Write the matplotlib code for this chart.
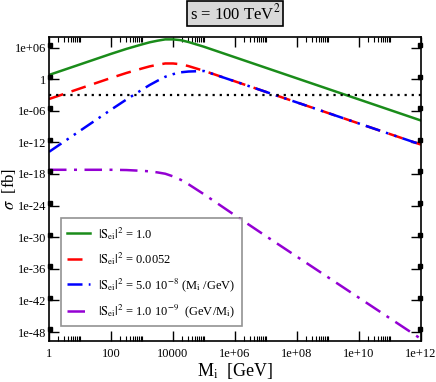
import matplotlib
matplotlib.use("Agg")
import matplotlib.pyplot as plt
import numpy as np
from matplotlib.ticker import FixedLocator, FixedFormatter, NullFormatter

# ---- data (log10 values) ----
log_mass = [0, 1, 2, 2.5, 3, 3.25, 3.5, 3.75, 4, 4.25, 4.5, 4.75, 5, 6, 7, 8, 9, 10, 11, 12]
log_sigma_s1 = [0.8, 2.8, 4.8, 5.75, 6.6, 7.0, 7.3, 7.55, 7.55, 7.4, 7.05, 6.6, 6.15,
                4.15, 2.15, 0.15, -1.85, -3.85, -5.85, -7.85]
log_sigma_s0052 = [-3.77, -1.77, 0.23, 1.18, 2.03, 2.43, 2.73, 2.98, 2.98, 2.83, 2.48, 2.03, 1.58,
                   -0.42, -2.42, -4.42, -6.42, -8.42, -10.42, -12.42]
log_sigma_lin = [-13.8, -9.8, -5.8, -3.85, -2.0, -1.1, -0.3, 0.45, 0.95, 1.3, 1.45, 1.5, 1.55,
                 -0.42, -2.42, -4.42, -6.42, -8.42, -10.42, -12.42]
log_sigma_inv = [-17.2, -17.2, -17.2, -17.25, -17.4, -17.5, -17.7, -17.95, -18.45, -19.1, -19.95,
                 -20.9, -21.85, -25.85, -29.8, -33.7, -37.6, -41.5, -45.4, -49.3]
reference_level = 1e-3

labels = [r"$|\mathrm{S}_{\mathrm{ei}}|^2$ = 1.0",
          r"$|\mathrm{S}_{\mathrm{ei}}|^2$ = 0.0052",
          r"$|\mathrm{S}_{\mathrm{ei}}|^2$ = 5.0 10$^{-8}$ (M$_{\mathrm{i}}$ /GeV)",
          r"$|\mathrm{S}_{\mathrm{ei}}|^2$ = 1.0 10$^{-9}$  (GeV/M$_{\mathrm{i}}$)"]

x_ticks = [1, 1e2, 1e4, 1e6, 1e8, 1e10, 1e12]
x_ticklabels = ["1", "100", "10000", "1e+06", "1e+08", "1e+10", "1e+12"]
y_ticks = [1e6, 1, 1e-6, 1e-12, 1e-18, 1e-24, 1e-30, 1e-36, 1e-42, 1e-48]
y_ticklabels = ["1e+06", "1", "1e-06", "1e-12", "1e-18", "1e-24", "1e-30", "1e-36", "1e-42", "1e-48"]

plt.rcParams['font.family'] = ['Liberation Serif', 'DejaVu Serif']
plt.rcParams['mathtext.fontset'] = 'stix'

fig = plt.figure(figsize=(4.36, 3.82), dpi=100)
ax = fig.add_axes([0.1124, 0.1073, 0.8532, 0.7958])

M = 10.0 ** np.array(log_mass)
ax.plot(M, 10.0 ** np.array(log_sigma_s1), color='#1a8c1a', lw=1.8, label=labels[0])
ax.plot(M, 10.0 ** np.array(log_sigma_s0052), color='#ff0000', lw=1.8, dashes=(6, 3.5), label=labels[1])
ax.plot(M, 10.0 ** np.array(log_sigma_lin), color='#0000ff', lw=1.8,
        dashes=(6, 2.5, 1, 2.5, 1, 2.5), label=labels[2])
ax.plot(M, 10.0 ** np.array(log_sigma_inv), color='#9400d3', lw=1.8,
        dashes=(7, 3, 1.2, 3), label=labels[3])
ax.axhline(reference_level, color='black', lw=1.6, ls=(0, (1, 2.2)))

ax.set_xscale('log')
ax.set_yscale('log')
ax.set_xlim(1, 1e12)
ax.set_ylim(10 ** -49.7, 10 ** 8.0)

ax.xaxis.set_major_locator(FixedLocator(x_ticks))
ax.xaxis.set_major_formatter(FixedFormatter(x_ticklabels))
minor_x = [t * m for t in x_ticks[:-1] for m in range(2, 11)]
ax.xaxis.set_minor_locator(FixedLocator(minor_x))
ax.xaxis.set_minor_formatter(NullFormatter())
ax.yaxis.set_major_locator(FixedLocator(y_ticks))
ax.yaxis.set_major_formatter(FixedFormatter(y_ticklabels))
ax.yaxis.set_minor_locator(FixedLocator([]))

ax.tick_params(which='major', direction='in', length=7, width=1, top=True, right=True,
               labelsize=9, colors='black')
ax.tick_params(axis='x', which='major', pad=5)
ax.tick_params(axis='y', which='major', pad=2)
ax.tick_params(which='minor', direction='in', length=3.5, width=0.8, top=True, right=False)
for s in ax.spines.values():
    s.set_linewidth(1.2)

# small black squares at the y major ticks (both sides)
for yt in y_ticks:
    for xa in (0.004, 0.996):
        ax.plot([xa], [yt * 10 ** 0.5], marker='s', ms=3, color='black',
                transform=ax.get_yaxis_transform(), clip_on=False)

ax.set_xlabel(r"M$_{\mathrm{i}}$  [GeV]", fontsize=13, labelpad=1)
ax.set_ylabel(r"$\sigma$  [fb]", fontsize=12)
ax.yaxis.set_label_coords(-0.084, 0.5)

leg = ax.legend(loc='lower left', bbox_to_anchor=(0.032, 0.049), fontsize=9,
                frameon=True, fancybox=False, edgecolor='#777777', handlelength=1.8,
                handletextpad=0.7, borderpad=0.5, labelspacing=0.7, borderaxespad=0)
leg.get_frame().set_linewidth(1.2)

fig.text(0.539, 0.965, r"s = 100 TeV$^2$", ha='center', va='center', fontsize=12,
         bbox=dict(boxstyle='square,pad=0.15', facecolor='#d9d9d9', edgecolor='black', lw=1.2))

fig.savefig("out.png", dpi=100)
